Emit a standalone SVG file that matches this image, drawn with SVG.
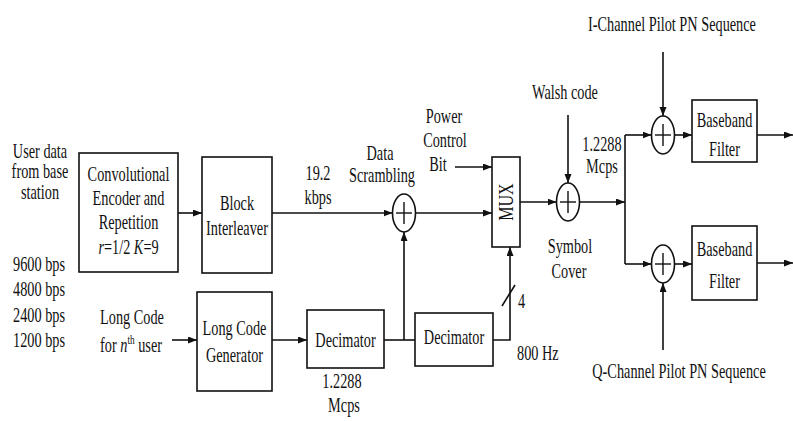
<svg xmlns="http://www.w3.org/2000/svg" width="793" height="421" viewBox="0 0 793 421">
<defs>
<marker id="ah" markerUnits="userSpaceOnUse" markerWidth="10" markerHeight="8" refX="9" refY="3.5" orient="auto">
<path d="M0,0 L9,3.5 L0,7 z" fill="#111"/>
</marker>
</defs>
<style>
text{font-family:"Liberation Serif","Times New Roman",serif;font-size:20px;fill:#111}
.m{text-anchor:middle}
.box{fill:#fff;stroke:#111;stroke-width:1.6}
.xor{fill:#fff;stroke:#111;stroke-width:1.6}
.pl{stroke:#111;stroke-width:1.4;fill:none}
.c{stroke:#111;stroke-width:1.6;fill:none}
.a{marker-end:url(#ah)}
</style>
<rect width="793" height="421" fill="#fff"/>

<g id="connectors">
<line class="c a" x1="178" y1="213" x2="202" y2="213"/>
<line class="c a" x1="272" y1="213" x2="392.5" y2="213"/>
<line class="c a" x1="415.5" y1="213" x2="492" y2="213"/>
<line class="c a" x1="455" y1="167" x2="492" y2="167"/>
<line class="c a" x1="172" y1="340" x2="197" y2="340"/>
<line class="c a" x1="272" y1="340" x2="307" y2="340"/>
<line class="c" x1="384" y1="340" x2="415" y2="340"/>
<line class="c a" x1="404" y1="340" x2="404" y2="232"/>
<polyline class="c a" points="493,340 510,340 510,247"/>
<line class="c" x1="502" y1="306" x2="515" y2="285"/>
<line class="c a" x1="520" y1="202" x2="556.5" y2="202"/>
<line class="c a" x1="568" y1="115" x2="568" y2="183"/>
<line class="c a" x1="579.5" y1="202" x2="625" y2="202"/>
<line class="c" x1="625" y1="135" x2="625" y2="264"/>
<line class="c a" x1="625" y1="135" x2="651.5" y2="135"/>
<line class="c a" x1="625" y1="264" x2="651.5" y2="264"/>
<line class="c a" x1="663" y1="52" x2="663" y2="116"/>
<line class="c a" x1="663" y1="350" x2="663" y2="283"/>
<line class="c a" x1="674.5" y1="135" x2="692" y2="135"/>
<line class="c a" x1="674.5" y1="264" x2="692" y2="264"/>
<line class="c a" x1="757" y1="135" x2="793" y2="135"/>
<line class="c a" x1="757" y1="263" x2="793" y2="263"/>
</g>

<g id="conv">
<rect class="box" x="79" y="153" width="99" height="119"/>
<text class="m" transform="translate(128.5,0) scale(0.715,1)" x="0" y="181">Convolutional</text>
<text class="m" transform="translate(128.5,0) scale(0.715,1)" x="0" y="205">Encoder and</text>
<text class="m" transform="translate(128.5,0) scale(0.715,1)" x="0" y="229">Repetition</text>
<text class="m" transform="translate(128.5,0) scale(0.715,1)" x="0" y="254"><tspan font-style="italic">r</tspan>=1/2 <tspan font-style="italic">K</tspan>=9</text>
</g>

<g id="interleaver">
<rect class="box" x="202" y="157" width="70" height="116"/>
<text class="m" transform="translate(237,0) scale(0.715,1)" x="0" y="210">Block</text>
<text class="m" transform="translate(237,0) scale(0.715,1)" x="0" y="235">Interleaver</text>
</g>

<g id="longcodegen">
<rect class="box" x="197" y="292" width="75" height="99"/>
<text class="m" transform="translate(234.5,0) scale(0.715,1)" x="0" y="335">Long Code</text>
<text class="m" transform="translate(234.5,0) scale(0.715,1)" x="0" y="362">Generator</text>
</g>

<g id="decimator1">
<rect class="box" x="307" y="310" width="77" height="58"/>
<text class="m" transform="translate(345.5,0) scale(0.715,1)" x="0" y="347">Decimator</text>
</g>

<g id="decimator2">
<rect class="box" x="415" y="313" width="78" height="53"/>
<text class="m" transform="translate(454,0) scale(0.715,1)" x="0" y="344">Decimator</text>
</g>

<g id="scrambler">
<ellipse class="xor" cx="404" cy="213" rx="11.5" ry="19"/>
<line class="pl" x1="396" y1="213" x2="412" y2="213"/>
<line class="pl" x1="404" y1="202" x2="404" y2="224"/>
</g>

<g id="mux">
<rect class="box" x="492" y="157" width="28" height="90"/>
<text class="m" transform="translate(513,202) rotate(-90) scale(0.8,1)" x="0" y="0">MUX</text>
</g>

<g id="walsh">
<ellipse class="xor" cx="568" cy="202" rx="11.5" ry="19"/>
<line class="pl" x1="560" y1="202" x2="576" y2="202"/>
<line class="pl" x1="568" y1="191" x2="568" y2="213"/>
</g>

<g id="xor_i">
<ellipse class="xor" cx="663" cy="135" rx="11.5" ry="19"/>
<line class="pl" x1="655" y1="135" x2="671" y2="135"/>
<line class="pl" x1="663" y1="124" x2="663" y2="146"/>
</g>

<g id="xor_q">
<ellipse class="xor" cx="663" cy="264" rx="11.5" ry="19"/>
<line class="pl" x1="655" y1="264" x2="671" y2="264"/>
<line class="pl" x1="663" y1="253" x2="663" y2="275"/>
</g>

<g id="baseband_i">
<rect class="box" x="692" y="100" width="65" height="62"/>
<text class="m" transform="translate(724.5,0) scale(0.715,1)" x="0" y="127">Baseband</text>
<text class="m" transform="translate(724.5,0) scale(0.715,1)" x="0" y="156">Filter</text>
</g>

<g id="baseband_q">
<rect class="box" x="692" y="226" width="65" height="74"/>
<text class="m" transform="translate(724.5,0) scale(0.715,1)" x="0" y="256">Baseband</text>
<text class="m" transform="translate(724.5,0) scale(0.715,1)" x="0" y="288">Filter</text>
</g>

<g id="labels">
<text class="m" transform="translate(40,0) scale(0.715,1)" x="0" y="158">User data</text>
<text class="m" transform="translate(40,0) scale(0.715,1)" x="0" y="178">from base</text>
<text class="m" transform="translate(40,0) scale(0.715,1)" x="0" y="199">station</text>
<text transform="translate(13,0) scale(0.715,1)" x="0" y="271">9600 bps</text>
<text transform="translate(13,0) scale(0.715,1)" x="0" y="296">4800 bps</text>
<text transform="translate(13,0) scale(0.715,1)" x="0" y="322">2400 bps</text>
<text transform="translate(13,0) scale(0.715,1)" x="0" y="347">1200 bps</text>
<text transform="translate(100,0) scale(0.715,1)" x="0" y="324">Long Code</text>
<text transform="translate(100,0) scale(0.715,1)" x="0" y="352">for <tspan font-style="italic">n</tspan><tspan font-size="13" dy="-8">th</tspan><tspan dy="8"> user</tspan></text>
<text class="m" transform="translate(318,0) scale(0.715,1)" x="0" y="180">19.2</text>
<text class="m" transform="translate(318,0) scale(0.715,1)" x="0" y="204">kbps</text>
<text class="m" transform="translate(380,0) scale(0.715,1)" x="0" y="160">Data</text>
<text class="m" transform="translate(382,0) scale(0.715,1)" x="0" y="182">Scrambling</text>
<text class="m" transform="translate(444,0) scale(0.715,1)" x="0" y="123">Power</text>
<text class="m" transform="translate(445,0) scale(0.715,1)" x="0" y="147">Control</text>
<text class="m" transform="translate(438,0) scale(0.715,1)" x="0" y="171">Bit</text>
<text class="m" transform="translate(342,0) scale(0.715,1)" x="0" y="388">1.2288</text>
<text class="m" transform="translate(344,0) scale(0.715,1)" x="0" y="412">Mcps</text>
<text transform="translate(518,0) scale(0.715,1)" x="0" y="308">4</text>
<text transform="translate(517,0) scale(0.715,1)" x="0" y="360">800 Hz</text>
<text class="m" transform="translate(565,0) scale(0.715,1)" x="0" y="99">Walsh code</text>
<text class="m" transform="translate(602,0) scale(0.715,1)" x="0" y="151">1.2288</text>
<text class="m" transform="translate(602,0) scale(0.715,1)" x="0" y="173">Mcps</text>
<text class="m" transform="translate(570,0) scale(0.715,1)" x="0" y="253">Symbol</text>
<text class="m" transform="translate(569,0) scale(0.715,1)" x="0" y="278">Cover</text>
<text class="m" transform="translate(672,0) scale(0.715,1)" x="0" y="31">I-Channel Pilot PN Sequence</text>
<text class="m" transform="translate(679,0) scale(0.715,1)" x="0" y="378">Q-Channel Pilot PN Sequence</text>
</g>
</svg>
